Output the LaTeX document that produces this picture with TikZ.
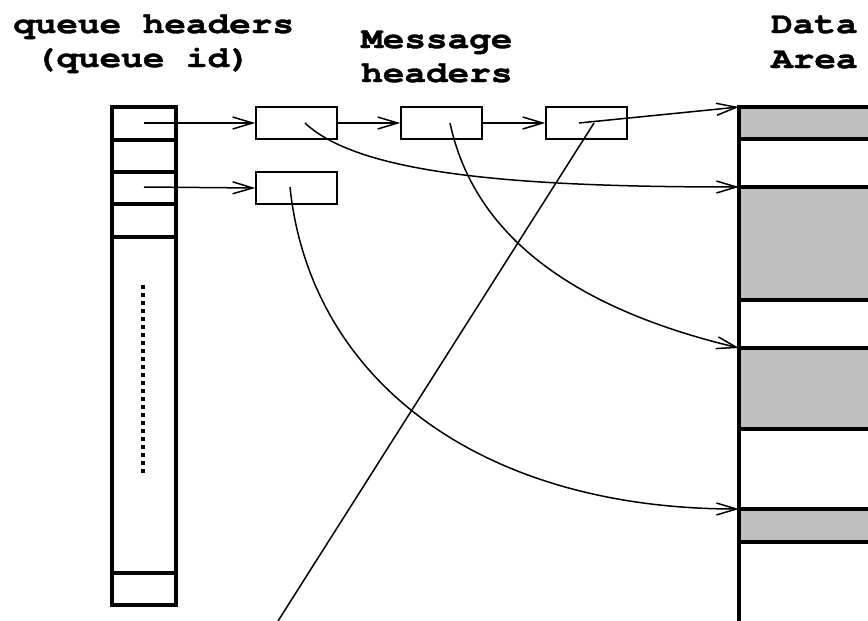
\documentclass[tikz,border=0pt]{standalone}
\usepackage{fontspec}
\setmonofont{TeX Gyre Cursor}
\usetikzlibrary{arrows.meta}
\begin{document}
\begin{tikzpicture}[x=1pt,y=-1pt,
  thin line/.style={line width=1.5pt},
  ptr/.style={thin line,-{Straight Barb[length=20pt,width=12pt,line width=1.5pt]}},
  msgbox/.style={draw,line width=1.5pt,minimum width=81pt,minimum height=32pt,inner sep=0pt},
  title/.style={font=\fontsize{30}{34}\selectfont\ttfamily\bfseries\addfontfeature{FakeBold=1.2},xscale=1.2,inner sep=0pt,anchor=base west},
  thick line/.style={line width=3.4pt},
  datafill/.style={fill=black!25}]
\useasboundingbox (0,0) rectangle (868,621);
% titles
\node[title] (t1) at (13,33) {queue headers};
\node[title] (t2) at (13,67) {~(queue id)};
\node[title] (t3) at (361,48) {Message};
\node[title] (t4) at (361,82) {headers};
\node[title] (t5) at (771,33) {Data};
\node[title] (t6) at (771,68) {Area};
% queue header column
\draw[thick line] (112,107) rectangle (176,605);
\foreach \yy in {140,172,204,237,573} \draw[thick line] (112,\yy) -- (176,\yy);
\draw[line width=4pt,dash pattern=on 4pt off 4pt] (143,285) -- (143,473);
\coordinate (q1) at (144,123);
\coordinate (q3) at (144,187);
% data area
\begin{scope}
\clip (700,100) rectangle (868,621);
\fill[datafill] (739,107) rectangle (880,139);
\fill[datafill] (739,187) rectangle (880,300);
\fill[datafill] (739,348) rectangle (880,429);
\fill[datafill] (739,509) rectangle (880,542);
\foreach \yy in {107,139,187,300,348,429,509,542} \draw[thick line] (739,\yy) -- (880,\yy);
\draw[thick line] (739,105.3) -- (739,625);
\end{scope}
\coordinate (d1) at (739,107);
\coordinate (d2) at (739,187);
\coordinate (d3) at (739,348);
\coordinate (d4) at (739,509);
\coordinate (bot) at (278,621);
% message header boxes
\node[msgbox] (m1) at (296.5,123) {};
\node[msgbox] (m2) at (441.5,123) {};
\node[msgbox] (m3) at (586.5,123) {};
\node[msgbox] (m4) at (296.5,188) {};
\coordinate (c1) at (305,123);
\coordinate (c2) at (450,123);
\coordinate (c3a) at (579,123);
\coordinate (c3b) at (594,123);
\coordinate (c4) at (290,187);
% pointers
\draw[ptr] (q1) -- (m1.west);
\draw[ptr] (q3) -- (m4.west);
\draw[ptr] (m1.east) -- (m2.west);
\draw[ptr] (m2.east) -- (m3.west);
\draw[ptr] (c3a) -- (d1);
\draw[ptr] (c1) .. controls (360,175) and (520,187) .. (d2);
\draw[ptr] (c2) .. controls (475,240) and (580,310) .. (d3);
\draw[ptr] (c4) .. controls (310,380) and (480,509) .. (d4);
\draw[thin line] (c3b) -- (bot);
\end{tikzpicture}
\end{document}
